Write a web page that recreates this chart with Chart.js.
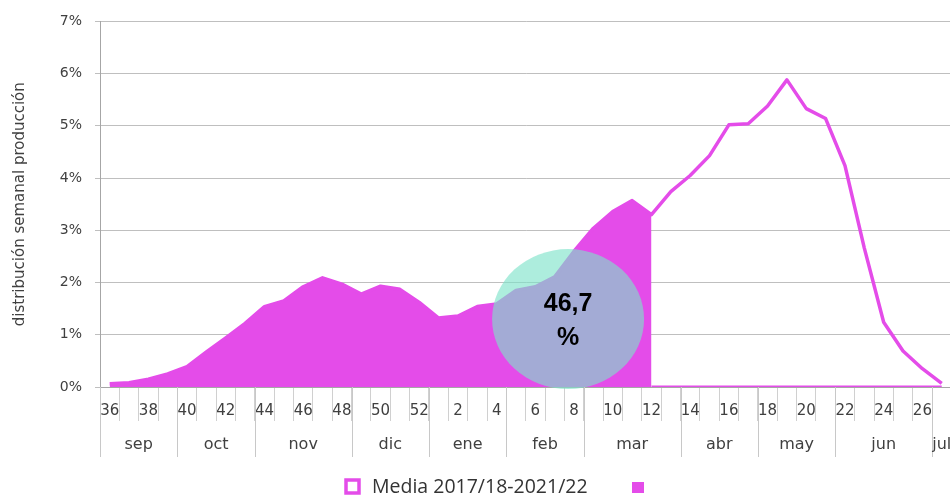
<!DOCTYPE html>
<html><head><meta charset="utf-8">
<script src="https://cdn.jsdelivr.net/npm/chart.js@4.4.1/dist/chart.umd.min.js"></script>
<style>
html,body{margin:0;padding:0;background:#fff;overflow:hidden}
#wrap{width:956px;height:495px;position:relative}
</style></head>
<body><div id="wrap"><canvas id="c" width="956" height="495"></canvas></div>
<script>
// ---- data ----
const semanas = ['36','37','38','39','40','41','42','43','44','45','46','47','48','49','50','51','52',
  '1','2','3','4','5','6','7','8','9','10','11','12','13','14','15','16','17','18','19','20','21','22','23','24','25','26','27'];
// Media 2017/18-2021/22 (% semanal)
const media = [0.06,0.08,0.15,0.25,0.39,0.67,0.94,1.22,1.54,1.65,1.92,2.09,1.97,1.78,1.93,1.87,1.62,
  1.32,1.36,1.54,1.59,1.85,1.92,2.11,2.60,3.04,3.36,3.57,3.30,3.74,4.05,4.43,5.02,5.04,5.38,5.88,5.33,5.14,4.24,2.66,1.24,0.69,0.35,0.07];
// campaña acumulada hasta semana 12 (área rellena)
const campana = [0.06,0.08,0.15,0.25,0.39,0.67,0.94,1.22,1.54,1.65,1.92,2.09,1.97,1.78,1.93,1.87,1.62,
  1.32,1.36,1.54,1.59,1.85,1.92,2.11,2.60,3.04,3.36,3.57,3.30,
  null,null,null,null,null,null,null,null,null,null,null,null,null,null,null];
// resto de la campaña (sin producción)
const resto = [null,null,null,null,null,null,null,null,null,null,null,null,null,null,null,null,null,
  null,null,null,null,null,null,null,null,null,null,null,0,0,0,0,0,0,0,0,0,0,0,0,0,0,0,0];
const meses = ['sep','oct','nov','dic','ene','feb','mar','abr','may','jun','jul'];
const semanasPorMes = [4,4,5,4,4,4,5,4,4,5,1];
const yTicks = [0,1,2,3,4,5,6,7];
const etiqueta = ['46,7','%'];
const etiquetaPos = {semana:'8', valor:1.30};
const leyenda = 'Media 2017/18-2021/22';

const PINK = '#E44CE9';
const TXT = '#404040';
const AXF = "'DejaVu Sans', sans-serif";

const overlay = {
  id:'overlay',
  afterDatasetsDraw(chart){
    const {ctx, scales:{x,y}} = chart;
    const idx = semanas.indexOf(etiquetaPos.semana);
    const cx = x.getPixelForValue(idx) - 6;
    const cy = y.getPixelForValue(etiquetaPos.valor);
    ctx.save();
    ctx.fillStyle = 'rgba(125,227,201,0.63)';
    ctx.beginPath();
    ctx.ellipse(cx, cy, 76, 70, 0, 0, Math.PI*2);
    ctx.fill();
    ctx.fillStyle = '#000';
    ctx.font = "bold 25px 'Liberation Sans', sans-serif";
    ctx.textAlign = 'center';
    ctx.textBaseline = 'middle';
    ctx.fillText(etiqueta[0], cx, cy - 15);
    ctx.fillText(etiqueta[1], cx, cy + 19);
    ctx.restore();
  },
  afterDraw(chart){
    const {ctx, scales:{x,y}} = chart;
    const step = x.getPixelForValue(1) - x.getPixelForValue(0);
    const top = y.bottom;
    ctx.save();
    ctx.strokeStyle = '#C8C8C8';
    ctx.lineWidth = 1;
    ctx.fillStyle = TXT;
    ctx.font = "16px " + AXF;
    ctx.textAlign = 'center';
    ctx.textBaseline = 'middle';
    let start = 0;
    semanasPorMes.forEach((n,i)=>{
      const l = x.getPixelForValue(start) - step/2;
      const r = x.getPixelForValue(start+n-1) + step/2;
      const lx = Math.round(l) + 0.5;
      ctx.beginPath(); ctx.moveTo(lx, top); ctx.lineTo(lx, top+70); ctx.stroke();
      ctx.fillText(meses[i], (l+r)/2, top + 58);
      start += n;
    });
    // legend
    ctx.strokeStyle = PINK; ctx.lineWidth = 3.5;
    ctx.strokeRect(346, 480, 13, 13);
    ctx.fillStyle = '#333';
    ctx.font = "19.5px 'Open Sans', sans-serif";
    ctx.textAlign = 'left';
    ctx.fillText(leyenda, 372, 487);
    ctx.fillStyle = PINK;
    ctx.fillRect(632, 482, 12, 11);
    ctx.restore();
  }
};

new Chart(document.getElementById('c'), {
  type:'line',
  data:{
    labels: semanas,
    datasets:[
      {label:'resto', data: resto, borderColor: PINK, borderWidth: 3, pointRadius: 0, fill:false, spanGaps:false, order:3},
      {label:'', data: campana, borderColor: PINK, borderWidth: 0, backgroundColor: PINK, pointRadius: 0, fill:'origin', spanGaps:false, order:2},
      {label: leyenda, data: media, borderColor: PINK, borderWidth: 3.5, pointRadius: 0, fill:false, order:1, borderJoinStyle:'round'}
    ]
  },
  options:{
    responsive:false,
    animation:false,
    layout:{padding:{left:0, top:18, right:4.6, bottom:38}},
    plugins:{legend:{display:false}, tooltip:{enabled:false}},
    scales:{
      x:{
        offset:true,
        grid:{offset:true, drawOnChartArea:false, tickLength:34, color:'#D0D0D0'},
        border:{display:true, color:'#A6A6A6'},
        ticks:{autoSkip:false, maxRotation:0, padding:-19, color:TXT, font:{family:AXF, size:15},
          callback:(v,i)=> (Number(semanas[i])%2===0 ? semanas[i] : '')},
        afterFit:(a)=>{a.height = 70;}
      },
      y:{
        min:0, max:7,
        afterBuildTicks:(a)=>{a.ticks = yTicks.map(v=>({value:v}));},
        grid:{color:'#BFBFBF', tickLength:5},
        border:{display:true, color:'#A6A6A6'},
        ticks:{padding:13, color:TXT, font:{family:AXF, size:14}, callback:(v)=> v + '%'},
        title:{display:true, text:'distribución semanal producción', color:TXT, font:{family:AXF, size:15}, padding:{top:11, bottom:0}},
        afterFit:(a)=>{a.width = 100;}
      }
    }
  },
  plugins:[overlay]
});
</script>
</body></html>
